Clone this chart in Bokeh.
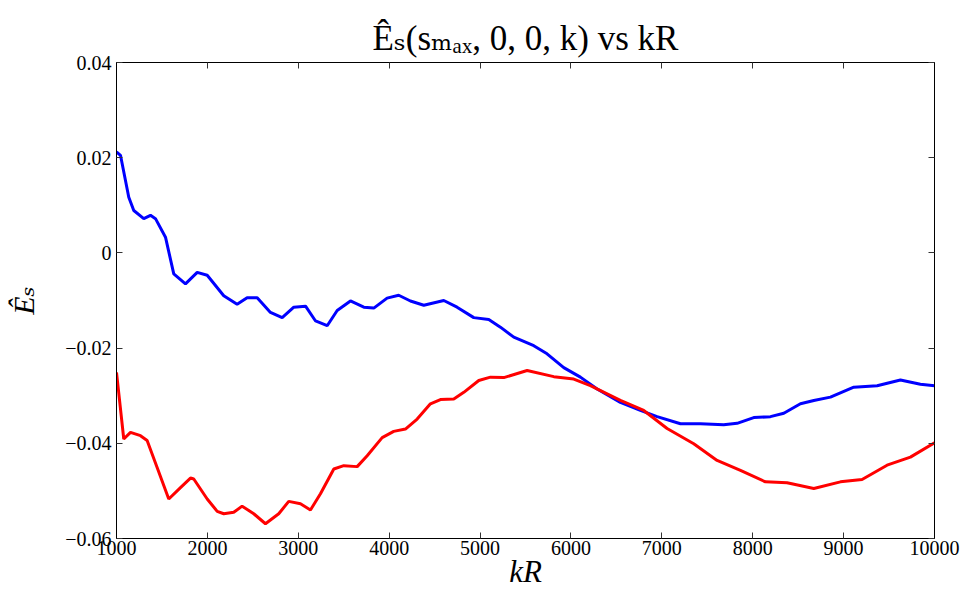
from bokeh.plotting import figure
from bokeh.models import LinearAxis, Range1d, FixedTicker, CustomJSTickFormatter
from bokeh.embed import file_html
from bokeh.resources import INLINE

blue_x = [1000,1044,1135,1190,1300,1374,1429,1539,1630,1759,1888,1998,2180,2327,2437,2548,2694,2823,2951,3080,3190,3318,3428,3574,3721,3831,3977,4105,4234,4381,4601,4747,4931,5096,5224,5371,5591,5737,5921,6104,6288,6544,6764,6948,7205,7425,7681,7828,8011,8195,8342,8525,8672,8855,9112,9369,9625,9845,10000]
blue_y = [0.0212,0.0205,0.0117,0.0089,0.0072,0.0079,0.0072,0.0033,-0.0044,-0.0065,-0.0041,-0.0047,-0.0090,-0.0108,-0.0094,-0.0094,-0.0125,-0.0136,-0.0114,-0.0112,-0.0143,-0.0153,-0.0121,-0.0101,-0.0114,-0.0116,-0.0095,-0.0089,-0.0101,-0.0110,-0.0100,-0.0114,-0.0136,-0.0140,-0.0156,-0.0177,-0.0195,-0.0212,-0.0241,-0.0261,-0.0286,-0.0314,-0.0331,-0.0344,-0.0359,-0.0359,-0.0361,-0.0358,-0.0346,-0.0344,-0.0337,-0.0317,-0.0310,-0.0303,-0.0282,-0.0279,-0.0267,-0.0276,-0.0279]

red_x = [1000,1080,1154,1264,1337,1447,1575,1704,1814,1850,1998,2108,2180,2290,2382,2510,2639,2785,2895,3024,3134,3244,3391,3501,3648,3758,3923,4050,4179,4308,4454,4564,4711,4821,4986,5114,5261,5518,5811,6031,6214,6544,6801,7058,7351,7608,7865,8140,8378,8672,8965,9203,9478,9735,10000]
red_y = [-0.0251,-0.0391,-0.0377,-0.0384,-0.0394,-0.0451,-0.0517,-0.0493,-0.0473,-0.0475,-0.0517,-0.0543,-0.0548,-0.0545,-0.0532,-0.0548,-0.0569,-0.0548,-0.0522,-0.0527,-0.0540,-0.0506,-0.0454,-0.0447,-0.0449,-0.0426,-0.0388,-0.0375,-0.0370,-0.0349,-0.0317,-0.0308,-0.0307,-0.0293,-0.0268,-0.0261,-0.0262,-0.0247,-0.0260,-0.0265,-0.0279,-0.0310,-0.0331,-0.0369,-0.0401,-0.0436,-0.0457,-0.0481,-0.0483,-0.0495,-0.0481,-0.0476,-0.0446,-0.0429,-0.0399]

x_ticks = [1000,2000,3000,4000,5000,6000,7000,8000,9000,10000]
y_ticks = [-0.06,-0.04,-0.02,0,0.02,0.04]

FONT = "Liberation Serif, DejaVu Serif, serif"

p = figure(width=960, height=592, output_backend="svg", toolbar_location=None,
           x_range=Range1d(1000, 10000), y_range=Range1d(-0.06, 0.04),
           min_border_left=116, min_border_right=26, min_border_top=62, min_border_bottom=54)
p.grid.visible = False
p.outline_line_color = "black"
p.outline_line_width = 1

p.title.text = "Ê\u209B(s\u2098\u2090\u2093, 0, 0, k) vs kR"
p.title.align = "center"
p.title.text_font = FONT
p.title.text_font_size = "35px"
p.title.text_font_style = "normal"
p.title.text_color = "black"
p.title.standoff = 10
p.title.offset = -10

p.line(blue_x, blue_y, line_color="#0000ff", line_width=3)
p.line(red_x, red_y, line_color="#ff0000", line_width=3)

yfmt = CustomJSTickFormatter(code="""
if (Math.abs(tick) < 1e-12) return "0";
return tick.toFixed(2).replace("-", "\u2212");
""")
blank = CustomJSTickFormatter(code="return '';")

for ax in p.xaxis:
    ax.ticker = FixedTicker(ticks=x_ticks)
    ax.axis_label = "kR"
    ax.axis_label_text_font = FONT
    ax.axis_label_text_font_style = "italic"
    ax.axis_label_text_font_size = "31px"
    ax.axis_label_standoff = -4
    ax.major_label_text_font = FONT
    ax.major_label_text_font_size = "20px"
    ax.major_label_standoff = 2
for ax in p.yaxis:
    ax.ticker = FixedTicker(ticks=y_ticks)
    ax.formatter = yfmt
    ax.axis_label = "Ê\u209B"
    ax.axis_label_text_font = FONT
    ax.axis_label_text_font_style = "italic"
    ax.axis_label_text_font_size = "30px"
    ax.axis_label_standoff = 22
    ax.major_label_text_font = FONT
    ax.major_label_text_font_size = "20px"
    ax.major_label_standoff = 5

for ax in list(p.xaxis) + list(p.yaxis):
    ax.major_tick_in = 6
    ax.major_tick_out = 0
    ax.minor_tick_line_color = None
    ax.axis_line_color = "black"
    ax.major_tick_line_color = "#333333"
    ax.major_label_text_color = "black"
    ax.axis_label_text_color = "black"

top = LinearAxis(ticker=FixedTicker(ticks=x_ticks), formatter=blank,
                 major_tick_in=6, major_tick_out=0, minor_tick_line_color=None,
                 major_tick_line_color="#333333", major_label_standoff=0)
right = LinearAxis(ticker=FixedTicker(ticks=y_ticks), formatter=blank,
                   major_tick_in=6, major_tick_out=0, minor_tick_line_color=None,
                   major_tick_line_color="#333333", major_label_standoff=0)
p.add_layout(top, "above")
p.add_layout(right, "right")

open("out.html", "w").write(file_html(p, INLINE))
